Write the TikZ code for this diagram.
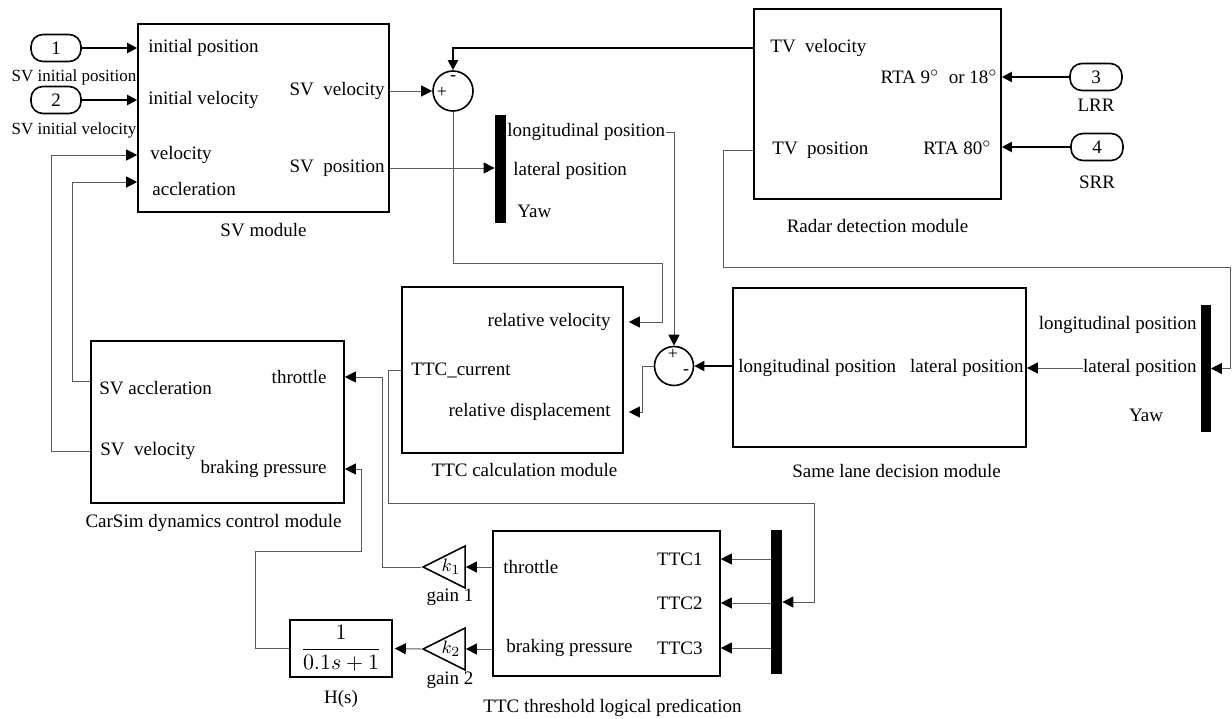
\documentclass[tikz,border=0pt]{standalone}
\usepackage{fontspec}
\setmainfont{Liberation Serif}
\usepackage{amsmath}
\usetikzlibrary{shapes.geometric, arrows.meta, positioning, calc}
\definecolor{wiregray}{HTML}{5A5A5A}

\begin{document}
\begin{tikzpicture}[
      %% one unit = one pixel of the layout grid
      x=0.5pt, y=-0.5pt,
      font=\fontsize{9.5}{11}\selectfont,
      %% Module blocks
      block/.style={rectangle, draw=black, line width=0.8pt, inner sep=0pt},
      %% Port texts and captions
      ptxt/.style={inner sep=0pt},
      capt/.style={inner sep=0pt},
      %% Bus bars, inports, sums, gains
      bus/.style={rectangle, fill=black, inner sep=0pt, minimum width=5.5pt},
      pill/.style={rectangle, rounded corners=6pt, draw, line width=0.8pt,
                   minimum width=25pt, minimum height=13.5pt, inner sep=0pt},
      sumnode/.style={circle, draw, line width=0.8pt, minimum size=20pt, inner sep=0pt},
      gainnode/.style={isosceles triangle, isosceles triangle stretches,
                       shape border rotate=180, draw, line width=0.8pt,
                       minimum width=21pt, minimum height=21pt, inner sep=0pt},
      sgn/.style={font=\fontsize{9}{10}\selectfont, inner sep=0pt},
      arr/.style={draw=wiregray, line width=0.5pt,
                  -{Triangle[length=5.5pt, width=5.5pt, color=black]}},
      tarr/.style={draw=black, line width=1pt, -{Triangle[length=5pt, width=5pt]}},
    ]
    \useasboundingbox (0,0) rectangle (1232,718);

    %% ── Blocks ──────────────────────────────────────────────────────────────
    \node[block, minimum width=125.5pt, minimum height=94pt]  (svmod)    at (263.5,118) {};
    \node[block, minimum width=123.5pt, minimum height=95pt]  (radar)    at (877.5,104) {};
    \node[block, minimum width=110.5pt, minimum height=83pt]  (ttccalc)  at (512.5,370) {};
    \node[block, minimum width=146.5pt, minimum height=79.5pt](samelane) at (879.5,367.5) {};
    \node[block, minimum width=126.5pt, minimum height=81pt]  (carsim)   at (217.5,422) {};
    \node[block, minimum width=113.5pt, minimum height=72.5pt](thresh)   at (606.5,603.5) {};
    \node[block, minimum width=51pt, minimum height=28.5pt]   (hs)       at (341,648.5)
      {\fontsize{10.5}{12}\selectfont$\dfrac{1}{0.1s+1}$};

    \node[bus, minimum height=54pt]                 (mux1) at (500.5,169) {};
    \node[bus, minimum height=72pt]                 (mux2) at (776.5,602) {};
    \node[bus, minimum width=5pt, minimum height=63.5pt] (mux3) at (1205.5,368.5) {};

    \node[sumnode]                     (sum1) at (453,91) {};
    \node[sgn] (s1m) at (453,78) {-};
    \node[sgn] (s1p) at (442,92) {+};
    \node[sumnode, minimum size=19.5pt] (sum2) at (674,366) {};
    \node[sgn] (s2p) at (673,354) {+};
    \node[sgn] (s2m) at (686,372) {-};

    \node[pill]                    (in1) at (56,48)   {1};
    \node[pill]                    (in2) at (56,100)  {2};
    \node[pill, minimum width=26pt] (in3) at (1096,77)  {3};
    \node[pill, minimum width=26pt] (in4) at (1097,147) {4};

    \node[gainnode, anchor=apex] (gain1) at (421,567) {};
    \node[gainnode, anchor=apex] (gain2) at (421,649) {};
    \node[ptxt] (k1) at (451,567) {$k_1$};
    \node[ptxt] (k2) at (451,649) {$k_2$};

    %% ── Port texts ──────────────────────────────────────────────────────────
    \node[ptxt, anchor=west] (ipos)  at (148,48)  {initial position};
    \node[ptxt, anchor=west] (ivel)  at (148,100) {initial velocity};
    \node[ptxt, anchor=west] (fvel)  at (150,155) {velocity};
    \node[ptxt, anchor=west] (facc)  at (152,189) {accleration};
    \node[ptxt, anchor=east] (svvel) at (385,91)  {SV\ \ velocity};
    \node[ptxt, anchor=east] (svpos) at (385,168) {SV\ \ position};

    \node[ptxt, anchor=west] (tvvel) at (770,48)  {TV\ \ velocity};
    \node[ptxt, anchor=east] (rta1)  at (998,77)  {RTA 9$^\circ$\ \ or 18$^\circ$};
    \node[ptxt, anchor=west] (tvpos) at (772,150) {TV\ \ position};
    \node[ptxt, anchor=east] (rta2)  at (992,148) {RTA 80$^\circ$};

    \node[ptxt, anchor=east] (relv)  at (611,322) {relative velocity};
    \node[ptxt, anchor=west] (ttcc)  at (411,370) {TTC\_current};
    \node[ptxt, anchor=east] (reld)  at (611,412) {relative displacement};

    \node[ptxt, anchor=west] (sllong) at (738,368)  {longitudinal position};
    \node[ptxt, anchor=east] (sllat)  at (1024,368) {lateral position};

    \node[ptxt, anchor=west] (cacc) at (99,388)  {SV accleration};
    \node[ptxt, anchor=east] (cthr) at (327,377) {throttle};
    \node[ptxt, anchor=west] (cvel) at (100,451) {SV\ \ velocity};
    \node[ptxt, anchor=east] (cbrk) at (327,469) {braking pressure};

    \node[ptxt, anchor=west] (tthr) at (503,567) {throttle};
    \node[ptxt, anchor=west] (tbrk) at (506,648) {braking pressure};
    \node[ptxt, anchor=east] (ttc1) at (703,559) {TTC1};
    \node[ptxt, anchor=east] (ttc2) at (703,603) {TTC2};
    \node[ptxt, anchor=east] (ttc3) at (703,648) {TTC3};

    \node[ptxt, anchor=west] (m1lon) at (507,132)  {longitudinal position};
    \node[ptxt, anchor=west] (m1lat) at (513,171)  {lateral position};
    \node[ptxt, anchor=west] (m1yaw) at (517,211)  {Yaw};
    \node[ptxt, anchor=east] (m3lon) at (1197,325) {longitudinal position};
    \node[ptxt, anchor=east] (m3lat) at (1197,368) {lateral position};
    \node[ptxt]              (m3yaw) at (1146,415) {Yaw};

    %% ── Captions ────────────────────────────────────────────────────────────
    \node[capt, below=5pt of svmod]                  (svcap)  {SV module};
    \node[capt, below=9.5pt of radar]                (radcap) {Radar detection module};
    \node[capt, below=4.5pt of ttccalc, xshift=6pt]  (ttccap) {TTC calculation module};
    \node[capt, below=8pt of samelane, xshift=8.5pt] (slcap)  {Same lane decision module};
    \node[capt, below=5pt of carsim, xshift=-2pt]    (cscap)  {CarSim dynamics control module};
    \node[capt, below=11pt of thresh, xshift=3pt]    (thcap)  {TTC threshold logical predication};
    \node[capt, below=6pt of hs]                     (hscap)  {H(s)};
    \node[capt] (g1cap) at (450,597) {gain 1};
    \node[capt] (g2cap) at (450,680) {gain 2};
    \node[capt, below=3.5pt of in1, xshift=9pt, font=\fontsize{8.5}{10}\selectfont] (in1l) {SV initial position};
    \node[capt, below=4pt of in2, xshift=9pt, font=\fontsize{8.5}{10}\selectfont]   (in2l) {SV initial velocity};
    \node[capt, below=3.5pt of in3] (lrr) {LRR};
    \node[capt, below=7pt of in4]   (srr) {SRR};

    %% ── Connectors ──────────────────────────────────────────────────────────
    %% inports
    \draw[tarr] (in1.east) -- (in1 -| svmod.west);
    \draw[tarr] (in2.east) -- (in2 -| svmod.west);
    \draw[tarr] (in3.west) -- (in3 -| radar.east);
    \draw[tarr] (in4.west) -- (in4 -| radar.east);

    %% SV module outputs
    \draw[arr] (svmod.east |- svvel) -- (sum1.west);
    \draw[arr] (svmod.east |- svpos) -- (svpos -| mux1.west);

    %% radar velocity into the first sum
    \draw[tarr] (radar.west |- tvvel) -| (sum1.north);

    %% relative velocity and displacement
    \draw[arr, shorten >=2.5pt] (sum1.south) -- ++(0,152) -- ++(209,0) |- (ttccalc.east |- relv);
    \draw[arr] (m1lon.east) -| (sum2.north);
    \draw[arr, shorten >=2.5pt] (sum2.west) -- ++(-11,0) |- (ttccalc.east |- reld);
    \draw[tarr] (samelane.west |- sum2) -- (sum2.east);

    %% radar position through the bus into same lane decision
    \draw[arr] (radar.west |- tvpos) -- ++(-30,0) -- ++(0,117) -| ([xshift=10pt]mux3.east) -- (mux3.east);
    \draw[arr] (m3lat.west) -- (samelane.east |- m3lat);

    %% TTC into the threshold logic
    \draw[arr] (ttccalc.west |- ttcc) -- ++(-13,0) -- ++(0,133) -| ([xshift=16pt]mux2.east) -- (mux2.east);
    \foreach \t in {ttc1,ttc2,ttc3}
      \draw[arr] (mux2.west |- \t) -- (thresh.east |- \t);

    %% gains, filter and CarSim inputs
    \draw[arr] (thresh.west |- gain1.east) -- (gain1.east);
    \draw[arr] (thresh.west |- gain2.east) -- (gain2.east);
    \draw[arr] (gain1.apex) -- ++(-39,0) |- (carsim.east |- cthr);
    \draw[arr, shorten >=1pt] (gain2.apex) -- (hs.east);
    \draw[arr] (hs.west) -- ++(-34,0) -- ++(0,-97) -- ++(106,0) |- (carsim.east |- cbrk);

    %% feedback to the SV module
    \draw[arr] (carsim.west |- cvel) -- ++(-39,0) |- (svmod.west |- fvel);
    \draw[arr] ($(carsim.west |- cacc)+(0,-7)$) -- ++(-18,0) |- ($(svmod.west |- facc)+(0,-7)$);
  \end{tikzpicture}
\end{document}
